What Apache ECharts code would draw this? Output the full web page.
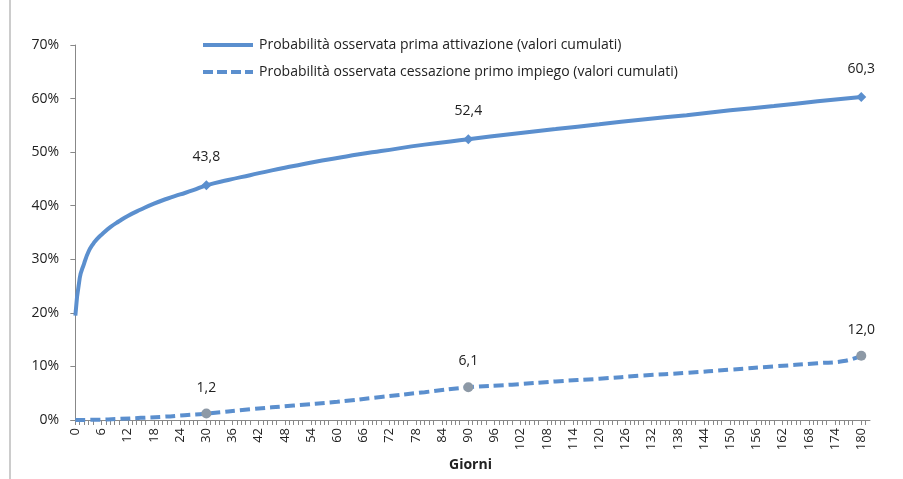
<!DOCTYPE html>
<html>
<head><meta charset="utf-8"></head>
<body style="margin:0">
<div id="container" style="width:903px;height:479px"></div>
<script src="https://cdn.jsdelivr.net/npm/echarts@6/dist/echarts.min.js"></script>
<script>
// giorni e valori
var attivDays = [0, 1, 2, 3, 4, 5, 6, 8, 10, 12, 15, 18, 21, 24, 27, 30, 35, 40, 45, 50, 55, 60, 65, 70, 80, 90, 100, 110, 120, 130, 140, 150, 160, 170, 180];
var attivVals = [19.5, 26.5, 29.2, 31.4, 32.8, 33.8, 34.6, 36.0, 37.1, 38.1, 39.3, 40.4, 41.3, 42.1, 42.9, 43.8, 44.8, 45.7, 46.6, 47.4, 48.2, 48.9, 49.6, 50.2, 51.4, 52.4, 53.4, 54.3, 55.2, 56.1, 56.9, 57.8, 58.6, 59.5, 60.3];
var cessDays = [0, 5, 10, 15, 20, 25, 30, 40, 50, 60, 70, 80, 90, 100, 110, 120, 130, 140, 150, 160, 170, 176, 180];
var cessVals = [0, 0.05, 0.2, 0.4, 0.6, 0.9, 1.2, 2.0, 2.7, 3.4, 4.3, 5.2, 6.1, 6.6, 7.2, 7.7, 8.3, 8.8, 9.4, 10.0, 10.6, 11.0, 12.0];
var markDays = [30, 90, 180];
var yTicks = [0, 10, 20, 30, 40, 50, 60, 70];
var xLabels = [0, 6, 12, 18, 24, 30, 36, 42, 48, 54, 60, 66, 72, 78, 84, 90, 96, 102, 108, 114, 120, 126, 132, 138, 144, 150, 156, 162, 168, 174, 180];

function pairs(d, v) {
    return d.map(function (x, i) {
        var on = markDays.indexOf(x) >= 0;
        return { value: [x, v[i]], symbolSize: on ? 10 : 0,
            label: { show: on } };
    });
}
var blue = '#5b8fce';
var lineIcon = 'path://M0,0 L50,0 L50,4 L0,4 Z';
var dashIcon = 'path://M0,0 L10,0 L10,4 L0,4 Z M14,0 L24,0 L24,4 L14,4 Z M28,0 L38,0 L38,4 L28,4 Z M42,0 L50,0 L50,4 L42,4 Z';
var myChart = echarts.init(document.getElementById('container'));
myChart.setOption({
    animation: false,
    textStyle: { fontFamily: 'Open Sans', color: '#333' },
    grid: { left: 71, right: 33, top: 45, bottom: 59 },
    graphic: [{ type: 'line', shape: { x1: 10, y1: 0, x2: 10, y2: 479 },
        style: { stroke: '#999', lineWidth: 1 } }],
    legend: {
        orient: 'vertical', left: 198, top: 33, itemWidth: 52, itemHeight: 4, itemGap: 13,
        textStyle: { fontSize: 14, color: '#222' },
        data: [{ name: 'Probabilità osservata prima attivazione (valori cumulati)', icon: lineIcon },
               { name: 'Probabilità osservata cessazione primo impiego (valori cumulati)', icon: dashIcon }],
        itemStyle: { color: blue }
    },
    xAxis: {
        type: 'value', min: -1, max: 182, interval: 6,
        name: 'Giorni', nameLocation: 'middle', nameGap: 37,
        nameTextStyle: { fontWeight: 'bold', fontSize: 14, color: '#222' },
        axisLine: { lineStyle: { color: '#888' } },
        axisTick: { show: false },
        minorTick: { show: true, splitNumber: 6, length: 5, lineStyle: { color: '#888' } },
        splitLine: { show: false },
        axisLabel: { rotate: 90, fontSize: 13, color: '#222', customValues: xLabels }
    },
    yAxis: {
        type: 'value', min: 0, max: 70, interval: 10,
        axisLine: { show: true, lineStyle: { color: '#888' } },
        axisTick: { show: true, lineStyle: { color: '#888' } },
        splitLine: { show: false },
        axisLabel: { fontSize: 14, color: '#222', margin: 12,
            formatter: function (v) { return yTicks.indexOf(v) >= 0 ? v + '%' : ''; } }
    },
    series: [{
        name: 'Probabilità osservata prima attivazione (valori cumulati)',
        type: 'line', smooth: true, symbol: 'diamond',
        lineStyle: { color: blue, width: 4 }, itemStyle: { color: blue },
        label: { position: 'top', distance: 16, fontSize: 14, color: '#222',
            formatter: function (p) { return p.value[1].toFixed(1).replace('.', ','); } },
        data: pairs(attivDays, attivVals)
    }, {
        name: 'Probabilità osservata cessazione primo impiego (valori cumulati)',
        type: 'line', smooth: true, symbol: 'circle',
        lineStyle: { color: blue, width: 4, type: [10, 5] }, itemStyle: { color: '#8d99a6' },
        label: { position: 'top', distance: 14, fontSize: 14, color: '#222',
            formatter: function (p) { return p.value[1].toFixed(1).replace('.', ','); } },
        data: pairs(cessDays, cessVals)
    }]
});
</script>
</body>
</html>
